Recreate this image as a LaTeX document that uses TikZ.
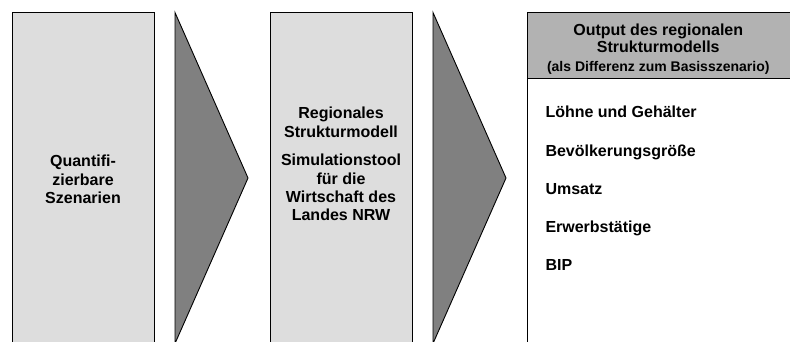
\documentclass[tikz,border=0pt]{standalone}
\usepackage{fontspec}
\setmainfont{Liberation Sans}
\definecolor{boxgray}{HTML}{DDDDDD}
\definecolor{arrowgray}{HTML}{808080}
\definecolor{headgray}{HTML}{B2B2B2}
\begin{document}
\begin{tikzpicture}[x=1pt,y=-1pt,
  panel/.style={draw=black, line width=0.9pt, fill=boxgray, anchor=north west, inner sep=0pt},
  outpanel/.style={draw=black, line width=0.9pt, fill=white, anchor=north west, inner sep=0pt},
  headpanel/.style={draw=black, line width=0.9pt, fill=headgray, anchor=north west, inner sep=0pt},
  arrowshape/.style={draw=black, line width=0.9pt, fill=arrowgray, line join=miter},
  txt/.style={font=\bfseries\fontsize{16}{18.4}\selectfont, inner sep=0pt, align=center},
  item/.style={font=\bfseries\fontsize{16}{18.4}\selectfont, inner sep=0pt, anchor=base west}]
\useasboundingbox (0,0) rectangle (790,341);

% panels
\node[panel, minimum width=142pt, minimum height=340pt] (box1) at (12,12) {};
\node[panel, minimum width=142pt, minimum height=340pt] (box2) at (270,12) {};
\node[outpanel, minimum width=262.5pt, minimum height=340pt] (box3) at (527,12) {};
\node[headpanel, minimum width=262.5pt, minimum height=66pt] (head) at (527,12) {};

% arrow shapes
\coordinate (a1t) at (175,12.5);
\coordinate (a1p) at (248,178);
\coordinate (a1b) at (175,343.5);
\draw[arrowshape] (a1t) -- (a1p) -- (a1b) -- cycle;
\coordinate (a2t) at (433,12.5);
\coordinate (a2p) at (506,178);
\coordinate (a2b) at (433,343.5);
\draw[arrowshape] (a2t) -- (a2p) -- (a2b) -- cycle;

% texts
\node[txt, anchor=north] (t1) at (83,155) {Quantifi-\\zierbare\\Szenarien};
\node[txt, anchor=north] (t2) at (341,107) {Regionales\\Strukturmodell\\[10pt]Simulationstool\\für die\\Wirtschaft des\\Landes NRW};
\node[txt, anchor=north] (t3) at (658.25,24) {Output des regionalen\\[-1.5pt]Strukturmodells\\[0.5pt]{\fontsize{14}{16}\selectfont(als Differenz zum Basisszenario)}};

\node[item] (i1) at (545.3,117.3) {Löhne und Gehälter};
\node[item] (i2) at (545.3,156) {Bevölkerungsgröße};
\node[item] (i3) at (545.3,194.3) {Umsatz};
\node[item] (i4) at (545.3,232.7) {Erwerbstätige};
\node[item] (i5) at (545.3,270.7) {BIP};
\end{tikzpicture}
\end{document}
